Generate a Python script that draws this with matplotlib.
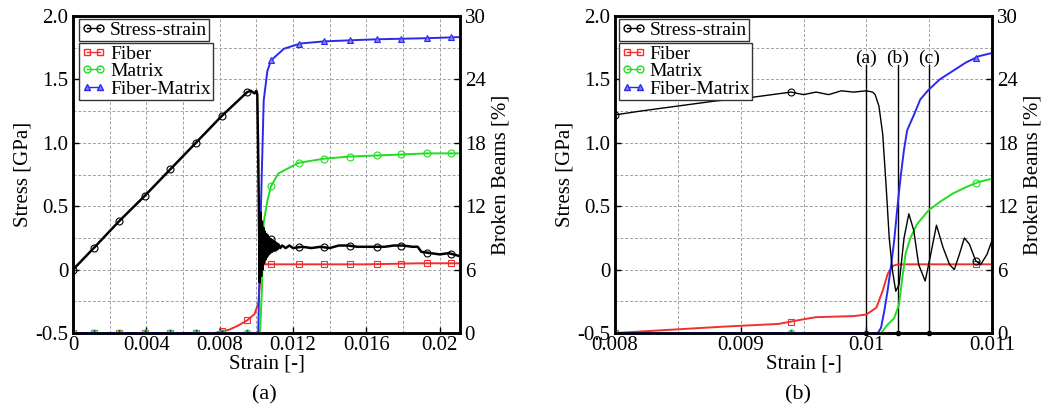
import numpy as np
import matplotlib
matplotlib.use("Agg")
import matplotlib.pyplot as plt
from matplotlib.ticker import MultipleLocator

plt.rcParams['font.family'] = ['Liberation Serif', 'DejaVu Serif']
plt.rcParams['mathtext.fontset'] = 'stix'

# ---------------- panel (a) ----------------
# stress-strain [GPa]
sa_x = [0, 0.00113, 0.0025, 0.0039, 0.0053, 0.0067, 0.0081, 0.0095, 0.0097, 0.0099, 0.0100,
        0.01005, 0.0101, 0.01015, 0.01018, 0.01022, 0.01026, 0.0103, 0.01034, 0.01038, 0.01042,
        0.01046, 0.0105, 0.01054, 0.01058, 0.01062, 0.01066, 0.0107, 0.01075, 0.0108, 0.01085,
        0.0109, 0.01095, 0.011, 0.01105, 0.0111, 0.01115, 0.0112, 0.0113, 0.0114, 0.0116, 0.0118,
        0.012, 0.0125, 0.013, 0.0135, 0.014, 0.0145, 0.015, 0.0155, 0.016, 0.0165, 0.017, 0.0175,
        0.018, 0.0185, 0.0188, 0.019, 0.0195, 0.02, 0.0205, 0.021]
sa_y = [0, 0.17, 0.38, 0.58, 0.79, 1.00, 1.21, 1.40, 1.41, 1.39, 1.41,
        1.38, 0.90, 0.30, -0.10, 0.45, -0.05, 0.38, 0.00, 0.33, 0.05,
        0.30, 0.08, 0.28, 0.10, 0.27, 0.12, 0.25, 0.13, 0.24, 0.14,
        0.23, 0.15, 0.22, 0.15, 0.21, 0.16, 0.20, 0.17, 0.19, 0.17, 0.19,
        0.17, 0.18, 0.17, 0.18, 0.17, 0.19, 0.19, 0.18, 0.18, 0.18, 0.18, 0.19,
        0.19, 0.18, 0.18, 0.14, 0.13, 0.12, 0.13, 0.11]
# broken beams [%]
fa_x = [0, 0.0077, 0.0085, 0.0090, 0.0095, 0.0099, 0.0101, 0.0102, 0.0103, 0.0104, 0.012, 0.016, 0.019, 0.021]
fa_y = [0, 0, 0.3, 0.7, 1.2, 1.8, 2.8, 4.8, 6.3, 6.5, 6.5, 6.5, 6.6, 6.6]
ma_x = [0, 0.0102, 0.0103, 0.01035, 0.0104, 0.0106, 0.0108, 0.0112, 0.0123, 0.0137, 0.0151, 0.0166, 0.0193, 0.021]
ma_y = [0, 0, 4.0, 8.0, 10.5, 12.5, 13.9, 15.1, 16.1, 16.5, 16.7, 16.8, 17.0, 17.0]
fma_x = [0, 0.0101, 0.01025, 0.0104, 0.0106, 0.0108, 0.0115, 0.0124, 0.0137, 0.0151, 0.0166, 0.0193, 0.021]
fma_y = [0, 0, 12.0, 22.0, 24.8, 25.8, 26.9, 27.4, 27.6, 27.7, 27.8, 27.9, 28.0]
marks_a = [0, 0.00113, 0.0025, 0.0039, 0.0053, 0.0067, 0.0081, 0.0095, 0.0108, 0.0123,
           0.0137, 0.0151, 0.0166, 0.0179, 0.0193, 0.0206]

# ---------------- panel (b) ----------------
sb_x = [0.008, 0.0082, 0.0085, 0.0088, 0.0091, 0.0094, 0.0095, 0.0096, 0.0097, 0.0098, 0.0099,
        0.01, 0.01005, 0.01007, 0.0101, 0.01013, 0.010156, 0.010182, 0.010208, 0.010234, 0.01026,
        0.0103, 0.010338, 0.010377, 0.010416, 0.010468, 0.010506, 0.010558, 0.01061, 0.010662,
        0.0107, 0.01074, 0.01078, 0.01082, 0.01087, 0.01091, 0.01096, 0.011]
sb_y = [1.22, 1.25, 1.29, 1.33, 1.36, 1.40, 1.38, 1.40, 1.38, 1.41, 1.40,
        1.41, 1.40, 1.38, 1.29, 1.07, 0.68, 0.25, -0.01, -0.17, -0.12,
        0.25, 0.44, 0.31, 0.04, -0.09, 0.09, 0.35, 0.175, 0.04,
        0.0, 0.12, 0.25, 0.20, 0.07, 0.04, 0.12, 0.23]
fb_x = [0.008, 0.00843, 0.00886, 0.0093, 0.0095, 0.0096, 0.0099, 0.01, 0.01008, 0.01013,
        0.01017, 0.01021, 0.01025, 0.011]
fb_y = [0.0, 0.3, 0.6, 0.86, 1.3, 1.5, 1.6, 1.75, 2.4, 4.0, 5.6, 6.35, 6.5, 6.5]
mb_x = [0.008, 0.010117, 0.01017, 0.010221, 0.01026, 0.010286, 0.010312, 0.010351, 0.010403,
        0.010494, 0.010584, 0.010688, 0.010792, 0.010896, 0.011]
mb_y = [0, 0, 0.8, 1.4, 2.7, 5.2, 7.5, 9.0, 10.3, 11.6, 12.4, 13.2, 13.8, 14.3, 14.6]
fmb_x = [0.008, 0.010091, 0.010117, 0.010143, 0.010169, 0.010195, 0.010221, 0.010247, 0.010273,
         0.010299, 0.010325, 0.010377, 0.010429, 0.010494, 0.010584, 0.010688, 0.010792,
         0.010896, 0.011]
fmb_y = [0, 0, 0.5, 2.1, 4.0, 6.2, 8.7, 11.9, 14.8, 17.3, 19.2, 20.6, 22.1, 23.0, 24.0,
         24.8, 25.6, 26.2, 26.5]
marks_b = [0.008, 0.0094, 0.01087]
events_b = [0.01, 0.01025, 0.0105]
event_labels = ['(a)', '(b)', '(c)']

RED = '#f03030'
GREEN = '#22dd22'
BLUE = '#2a2aee'

fig = plt.figure(figsize=(10.54, 4.16), dpi=100)
ax_a = fig.add_axes([0.0693, 0.1995, 0.367, 0.762])
ax_b = fig.add_axes([0.5835, 0.1995, 0.3577, 0.762])


def draw_panel(ax, sx, sy, fx, fy, mx, my, fmx, fmy, marks, xlim, major, minor, xlabels,
               leg_x, black_lw):
    ax2 = ax.twinx()
    ms = 5
    mk = [m for m in marks if xlim[0] <= m <= xlim[1]]
    ax2.plot(fx, fy, color=RED, lw=1.4)
    ax2.plot(mk, np.interp(mk, fx, fy), 's', ms=ms, mfc='none', mec=RED, mew=0.8)
    ax2.plot(mx, my, color=GREEN, lw=1.4)
    ax2.plot(mk, np.interp(mk, mx, my), 'o', ms=ms, mfc='none', mec=GREEN, mew=0.8)
    ax2.plot(fmx, fmy, color=BLUE, lw=1.4)
    ax2.plot(mk, np.interp(mk, fmx, fmy), '^', ms=ms, mfc='#8080ff', mec=BLUE, mew=0.8)
    # stress curve drawn on the twin (converted to %) so it sits on top
    to_pct = lambda v: (np.asarray(v) + 0.5) * 12.0
    ax2.plot(sx, to_pct(sy), color='black', lw=black_lw, zorder=3)
    ax2.plot(mk, to_pct(np.interp(mk, sx, sy)), 'o', ms=ms, mfc='none', mec='black', mew=0.8,
             zorder=4)

    ax.set_xlim(*xlim)
    ax.set_ylim(-0.5, 2.0)
    ax2.set_ylim(0, 30)
    ax.set_xticks(major)
    ax.set_xticklabels(xlabels)
    ax.xaxis.set_minor_locator(MultipleLocator(minor))
    ax.set_yticks([-0.5, 0, 0.5, 1.0, 1.5, 2.0])
    ax.set_yticklabels(['-0.5', '0', '0.5', '1.0', '1.5', '2.0'])
    ax.yaxis.set_minor_locator(MultipleLocator(0.25))
    ax2.set_yticks([0, 6, 12, 18, 24, 30])
    ax.grid(which='both', ls=(0, (3, 2)), color='#a0a0a0', lw=0.7)
    ax.set_axisbelow(True)
    for a in (ax, ax2):
        a.tick_params(which='both', direction='in', labelsize=15, length=4, width=1)
        a.tick_params(which='minor', length=0)
        for s in a.spines.values():
            s.set_linewidth(1.8)
    ax.tick_params(axis='x', pad=2)
    ax.set_xlabel('Strain [-]', fontsize=15, labelpad=0)
    ax.set_ylabel('Stress [GPa]', fontsize=15, labelpad=2)
    ax2.set_ylabel('Broken Beams [%]', fontsize=15, labelpad=4)

    h_s = plt.Line2D([], [], color='black', lw=1, marker='o', ms=ms, mfc='none', mec='black')
    h_f = plt.Line2D([], [], color=RED, lw=1, marker='s', ms=ms, mfc='none', mec=RED)
    h_m = plt.Line2D([], [], color=GREEN, lw=1, marker='o', ms=ms, mfc='none', mec=GREEN)
    h_fm = plt.Line2D([], [], color=BLUE, lw=1, marker='^', ms=ms, mfc='#8080ff', mec=BLUE)
    kw = dict(loc='upper left', fontsize=14, numpoints=2, handlelength=1.3, handletextpad=0.2,
              borderpad=0.1, labelspacing=0.0, fancybox=False, edgecolor='#333333',
              framealpha=1, borderaxespad=0)
    leg1 = ax2.legend([h_s], ['Stress-strain'], bbox_to_anchor=(leg_x, 0.99), **kw)
    leg1.get_frame().set_linewidth(1.0)
    ax2.add_artist(leg1)
    leg2 = ax2.legend([h_f, h_m, h_fm], ['Fiber', 'Matrix', 'Fiber-Matrix'],
                      bbox_to_anchor=(leg_x, 0.915), **kw)
    leg2.get_frame().set_linewidth(1.0)
    leg1.set_zorder(10)
    leg2.set_zorder(10)
    return ax2


draw_panel(ax_a, sa_x, sa_y, fa_x, fa_y, ma_x, ma_y, fma_x, fma_y, marks_a,
           (0, 0.0211), [0, 0.004, 0.008, 0.012, 0.016, 0.02], 0.002,
           ['0', '0.004', '0.008', '0.012', '0.016', '0.02'], 0.015, 1.8)
draw_panel(ax_b, sb_x, sb_y, fb_x, fb_y, mb_x, mb_y, fmb_x, fmb_y, marks_b,
           (0.008, 0.011), [0.008, 0.009, 0.01, 0.011], 0.0005,
           ['0.008', '0.009', '0.01', '0.011'], 0.01, 1.0)

for ev, lab in zip(events_b, event_labels):
    ax_b.plot([ev, ev], [-0.5, 1.61], color='black', lw=1.0, zorder=5)
    ax_b.plot([ev], [-0.5], 'o', color='black', ms=3, zorder=6, clip_on=False)
    ax_b.text(ev, 1.67, lab, ha='center', va='center', fontsize=14, zorder=6)

fig.text(0.251, 0.05, '(a)', ha='center', va='center', fontsize=16)
fig.text(0.757, 0.05, '(b)', ha='center', va='center', fontsize=16)

fig.savefig('out.png', dpi=100)
